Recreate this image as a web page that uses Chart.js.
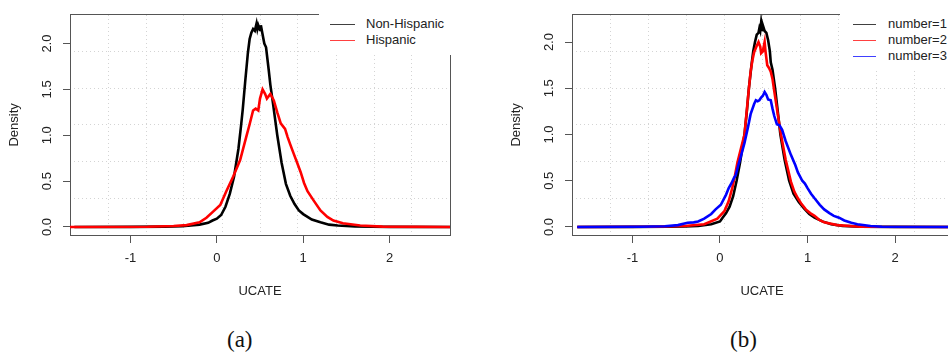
<!DOCTYPE html>
<html lang="en">
<head>
<meta charset="UTF-8">
<script src="https://cdn.jsdelivr.net/npm/chart.js"></script>
<title>UCATE density</title>
<style>
  body { margin: 0; width: 948px; height: 352px; overflow: hidden; background: #fff; position: relative;
         font-family: "Liberation Sans", Arial, sans-serif; }
  .panel { position: absolute; top: 0; width: 474px; height: 310px; }
  #panelA { left: 0; }
  #panelB { left: 502px; }
  .legend { position: absolute; top: 0; background: #fff; padding-top: 16px; font-size: 13px; color: #222; }
  .legend .row { position: relative; height: 16px; line-height: 16px; white-space: nowrap; }
  .legend .swatch { position: absolute; top: 8px; height: 1px; opacity: 0.75; }
  .legend .name { position: absolute; top: 0; }
  .caption { position: absolute; top: 327px; font-family: "Liberation Serif", "DejaVu Serif", serif; font-size: 23px; color: #111; }
</style>
<script>
  // --- data: [UCATE, density] ---
  const nonHispanic = [[-1.65,0],[-1.0,0.001],[-0.6,0.003],[-0.4,0.008],[-0.3,0.015],[-0.2,0.025],[-0.1,0.045],[-0.05,0.07],
    [0.0,0.09],[0.05,0.13],[0.1,0.22],[0.15,0.36],[0.2,0.55],[0.25,0.85],[0.28,1.1],[0.3,1.28],[0.33,1.6],[0.36,1.9],
    [0.38,2.05],[0.4,2.12],[0.42,2.16],[0.44,2.14],[0.46,2.22],[0.47,2.16],[0.48,2.2],[0.5,2.15],[0.51,2.2],[0.53,2.1],
    [0.55,2.0],[0.57,1.96],[0.6,1.72],[0.62,1.55],[0.65,1.35],[0.7,1.0],[0.75,0.7],[0.8,0.47],[0.85,0.34],[0.9,0.25],
    [0.95,0.18],[1.0,0.14],[1.1,0.08],[1.2,0.05],[1.3,0.025],[1.4,0.015],[1.6,0.006],[1.8,0.002],[2.0,0.001],[2.7,0]];
  const hispanic = [[-1.7,0],[-0.8,0.002],[-0.5,0.01],[-0.35,0.02],[-0.2,0.05],[-0.12,0.1],[-0.04,0.17],[0.04,0.24],
    [0.11,0.39],[0.19,0.55],[0.27,0.73],[0.34,0.98],[0.38,1.12],[0.42,1.27],[0.45,1.29],[0.48,1.27],[0.5,1.4],[0.53,1.5],
    [0.56,1.45],[0.58,1.4],[0.62,1.45],[0.66,1.38],[0.7,1.25],[0.74,1.13],[0.79,1.07],[0.82,0.98],[0.85,0.9],[0.89,0.8],
    [0.93,0.7],[0.97,0.6],[1.01,0.48],[1.05,0.39],[1.12,0.29],[1.2,0.18],[1.28,0.11],[1.35,0.07],[1.46,0.04],[1.66,0.015],
    [1.92,0.003],[2.7,0]];

  const number1 = [[-1.63,0],[-1.0,0.001],[-0.6,0.002],[-0.4,0.005],[-0.25,0.012],[-0.1,0.03],[0.0,0.06],[0.03,0.1],
    [0.07,0.15],[0.11,0.22],[0.15,0.33],[0.19,0.5],[0.23,0.7],[0.28,1.0],[0.31,1.28],[0.33,1.5],[0.36,1.75],[0.38,1.9],
    [0.4,2.0],[0.42,2.08],[0.44,2.1],[0.45,2.15],[0.46,2.12],[0.47,2.21],[0.48,2.13],[0.49,2.18],[0.51,2.12],[0.53,2.1],
    [0.55,2.02],[0.57,1.9],[0.58,1.78],[0.6,1.7],[0.63,1.5],[0.66,1.25],[0.69,1.0],[0.74,0.72],[0.79,0.5],[0.84,0.36],
    [0.9,0.27],[0.96,0.2],[1.02,0.14],[1.08,0.1],[1.17,0.06],[1.27,0.03],[1.4,0.012],[1.6,0.004],[2.0,0.001],[2.7,0]];
  const number2 = [[-1.63,0],[-0.8,0.002],[-0.4,0.01],[-0.18,0.03],[-0.03,0.09],[0.05,0.17],[0.1,0.28],[0.14,0.42],
    [0.17,0.55],[0.2,0.7],[0.24,0.85],[0.28,1.0],[0.3,1.2],[0.32,1.4],[0.35,1.68],[0.37,1.8],[0.39,1.89],[0.42,1.96],
    [0.44,2.0],[0.46,1.95],[0.47,1.88],[0.49,1.9],[0.51,2.0],[0.52,1.9],[0.54,1.75],[0.56,1.72],[0.58,1.68],[0.6,1.6],
    [0.62,1.47],[0.66,1.22],[0.7,0.98],[0.75,0.73],[0.81,0.49],[0.85,0.38],[0.89,0.31],[0.93,0.25],[0.98,0.19],[1.03,0.15],
    [1.08,0.12],[1.13,0.08],[1.19,0.05],[1.34,0.02],[1.6,0.003],[2.7,0]];
  const number3 = [[-1.63,0],[-0.9,0.002],[-0.63,0.007],[-0.48,0.02],[-0.37,0.045],[-0.3,0.05],[-0.25,0.06],[-0.18,0.09],
    [-0.1,0.14],[-0.05,0.19],[0.01,0.24],[0.07,0.35],[0.1,0.42],[0.13,0.47],[0.16,0.53],[0.18,0.56],[0.21,0.67],[0.24,0.77],
    [0.28,0.91],[0.32,1.08],[0.35,1.22],[0.39,1.33],[0.41,1.37],[0.43,1.36],[0.45,1.37],[0.47,1.4],[0.49,1.42],[0.51,1.46],
    [0.53,1.43],[0.55,1.38],[0.58,1.37],[0.6,1.28],[0.62,1.2],[0.65,1.11],[0.68,1.1],[0.71,1.05],[0.75,0.93],[0.81,0.78],
    [0.86,0.67],[0.89,0.59],[0.94,0.5],[0.97,0.47],[1.0,0.42],[1.04,0.36],[1.08,0.31],[1.14,0.24],[1.19,0.19],[1.25,0.15],
    [1.3,0.12],[1.36,0.1],[1.42,0.07],[1.5,0.045],[1.57,0.03],[1.72,0.01],[1.85,0.003],[2.7,0]];

  const namesA = ['Non-Hispanic', 'Hispanic'];
  const namesB = ['number=1', 'number=2', 'number=3'];
  const colors = ['#000000', '#ff0000', '#0000ff'];

  // axis ranges, ticks and dotted grid positions
  const xRangeA = [-1.70, 2.70];
  const yRangeA = [-0.088, 2.314];
  const xRangeB = [-1.69, 2.65];
  const yRangeB = [-0.087, 2.295];
  const xTicks = [-1, 0, 1, 2];
  const yTicks = [0, 0.5, 1, 1.5, 2];
  const gridXA = [-1.26, -0.82, -0.38, 0.06, 0.50, 0.94, 1.38, 1.82, 2.26];
  const gridYA = [0.312, 0.713, 1.113, 1.513, 1.913];
  const gridXB = [-1.256, -0.822, -0.388, 0.046, 0.48, 0.914, 1.348, 1.782, 2.216];
  const gridYB = [0.310, 0.707, 1.104, 1.501, 1.898];
</script>
</head>
<body>
  <div class="panel" id="panelA"><canvas id="chartA"></canvas></div>
  <div class="panel" id="panelB"><canvas id="chartB"></canvas></div>
  <div class="legend" id="legendA" style="left:319px; width:136px; height:39px;"></div>
  <div class="legend" id="legendB" style="left:840px; width:110px; height:55px;"></div>
  <div class="caption" style="left:227px;">(a)</div>
  <div class="caption" style="left:730px;">(b)</div>

<script>
  const FONT = { family: '"Liberation Sans", Arial, sans-serif', size: 13 };
  const AXIS = '#555';
  const TEXT = '#222';

  function setTicks(values) {
    return function (scale) { scale.ticks = values.map(v => ({ value: v })); };
  }

  function makeOptions(xr, yr, gx, gy) {
    return {
      animation: false,
      responsive: true,
      maintainAspectRatio: false,
      layout: { padding: { left: 0, top: 8, right: 24, bottom: 0 } },
      plugins: { legend: { display: false }, tooltip: { enabled: false } },
      elements: { point: { radius: 0 }, line: { tension: 0, borderWidth: 2.6 } },
      scales: {
        x: {
          type: 'linear', position: 'bottom', min: xr[0], max: xr[1],
          afterBuildTicks: setTicks(xTicks),
          afterFit: s => { s.height = 75; },
          grid: { display: true, drawOnChartArea: false, drawTicks: true, tickLength: 8, tickColor: AXIS },
          border: { display: true, color: AXIS, width: 1 },
          ticks: { color: TEXT, font: FONT, padding: 8, callback: v => String(v) },
          title: { display: true, text: 'UCATE', color: TEXT, font: FONT, padding: { top: 0, bottom: 11 } }
        },
        y: {
          type: 'linear', position: 'left', min: yr[0], max: yr[1],
          afterBuildTicks: setTicks(yTicks),
          afterFit: s => { s.width = 70; },
          grid: { display: true, drawOnChartArea: false, drawTicks: true, tickLength: 7, tickColor: AXIS },
          border: { display: true, color: AXIS, width: 1 },
          ticks: { color: TEXT, font: FONT, padding: 7, minRotation: 90, maxRotation: 90, crossAlign: 'center',
                   callback: v => v.toFixed(1) },
          title: { display: true, text: 'Density', color: TEXT, font: FONT, padding: { top: 7, bottom: 0 } }
        },
        x2: {
          type: 'linear', position: 'top', min: xr[0], max: xr[1],
          afterBuildTicks: setTicks(gx),
          afterFit: s => { s.height = 0; },
          ticks: { display: false },
          grid: { color: '#d4d4d4', lineWidth: 1, drawTicks: false },
          border: { display: true, color: AXIS, width: 1, dash: [1, 3] }
        },
        y2: {
          type: 'linear', position: 'right', min: yr[0], max: yr[1],
          afterBuildTicks: setTicks(gy),
          afterFit: s => { s.width = 0; },
          ticks: { display: false },
          grid: { color: '#d4d4d4', lineWidth: 1, drawTicks: false },
          border: { display: true, color: AXIS, width: 1, dash: [1, 3] }
        }
      }
    };
  }

  function toPoints(arr) {
    return arr.map(p => ({ x: p[0], y: p[1] }));
  }

  new Chart(document.getElementById('chartA'), {
    type: 'line',
    data: {
      datasets: [
        { label: namesA[0], data: toPoints(nonHispanic), borderColor: colors[0], order: 1 },
        { label: namesA[1], data: toPoints(hispanic), borderColor: colors[1], order: 0 }
      ]
    },
    options: makeOptions(xRangeA, yRangeA, gridXA, gridYA)
  });

  new Chart(document.getElementById('chartB'), {
    type: 'line',
    data: {
      datasets: [
        { label: namesB[0], data: toPoints(number1), borderColor: colors[0], order: 2 },
        { label: namesB[1], data: toPoints(number2), borderColor: colors[1], order: 1 },
        { label: namesB[2], data: toPoints(number3), borderColor: colors[2], order: 0 }
      ]
    },
    options: makeOptions(xRangeB, yRangeB, gridXB, gridYB)
  });

  // legends (R style, white box over the plot corner)
  function buildLegend(id, names, lineLeft, lineWidth, textLeft) {
    const box = document.getElementById(id);
    names.forEach((n, i) => {
      const row = document.createElement('div');
      row.className = 'row';
      row.innerHTML = '<div class="swatch" style="left:' + lineLeft + 'px;width:' + lineWidth + 'px;background:' + colors[i] + '"></div>' +
                      '<div class="name" style="left:' + textLeft + 'px">' + n + '</div>';
      box.appendChild(row);
    });
  }
  buildLegend('legendA', namesA, 11, 25, 47);
  buildLegend('legendB', namesB, 13, 23, 48);
</script>
</body>
</html>
